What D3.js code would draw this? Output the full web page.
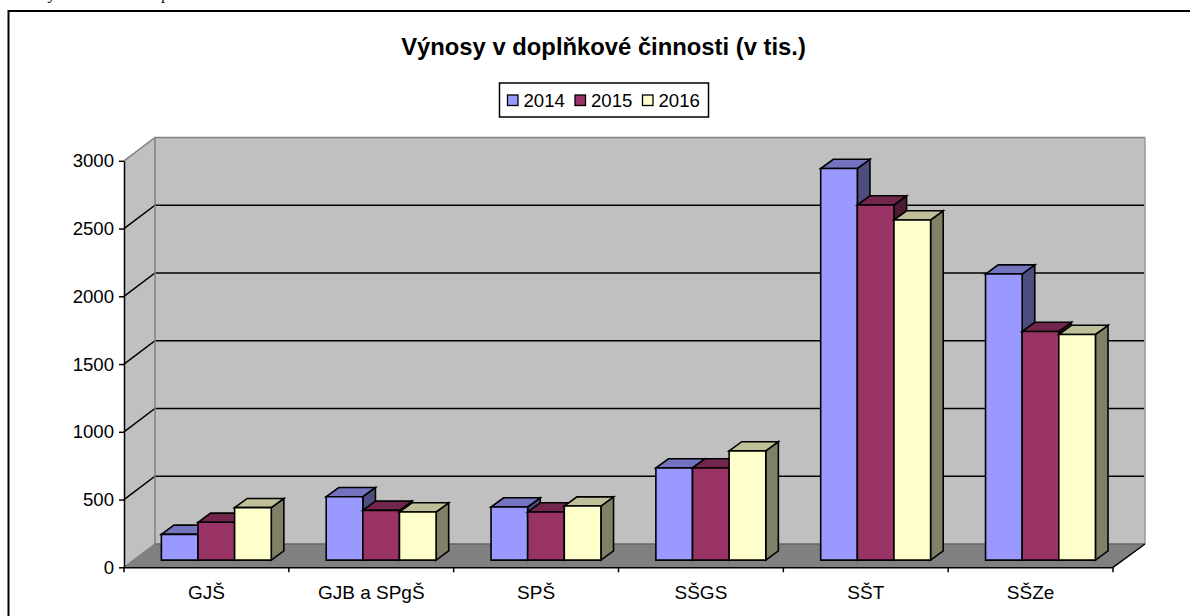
<!DOCTYPE html>
<html><head><meta charset="utf-8">
<script src="https://cdn.jsdelivr.net/npm/d3@7"></script>
<style>
html,body{margin:0;padding:0;background:#fff;overflow:hidden}
svg{display:block}
text{font-family:"Liberation Sans",Arial,sans-serif;fill:#000}
</style></head><body>
<svg id="c" width="1190" height="616"></svg>
<script>
const categories = ["GJŠ","GJB a SPgŠ","SPŠ","SŠGS","SŠT","SŠZe"];
const years = ["2014","2015","2016"];
const values2014 = [190,468,392,680,2890,2111];
const values2015 = [279,367,355,680,2621,1687];
const values2016 = [387,355,399,806,2510,1665];
const yTicks = [0,500,1000,1500,2000,2500,3000];
const titleText = "Výnosy v doplňkové činnosti (v tis.)";
const frontColors = ["#9999FF","#993366","#FFFFCC"];
const topColors = ["#7373BF","#73264D","#BFBF99"];
const sideColors = ["#4D4D80","#4D1A33","#808066"];
const series = [values2014,values2015,values2016];

const svg = d3.select("#c");
const L=124,R=1113,Y0=567.3,Y3=160.8,DX=31,DY=-23.3;
const x0 = d3.scaleBand().domain(categories).range([L,R]).paddingInner(0).paddingOuter(0);
const step = x0.step();
const barW = step/4.5;
const x1 = d3.scaleBand().domain(years).range([barW*0.75, barW*3.75]);
const y = d3.scaleLinear().domain([0,3000]).range([Y0,Y3]);
const bdx=9.9, bdy=-7.2, ddx=12.6, ddy=-9.2;

// caption cut off by the top of the page
const cap = svg.append("g").style("font-style","italic").style("font-size","16px");
cap.append("text").attr("x",49).attr("y",-1).style("font-family","'Liberation Serif',serif").text("y");
cap.append("text").attr("x",162).attr("y",-1).style("font-family","'Liberation Serif',serif").text("p");

// frame
svg.append("path").attr("d","M8.5,616V11H1190").attr("fill","#fff").attr("stroke","#000").attr("stroke-width",2);

// walls and floor
const poly=(pts,fill)=>svg.append("polygon").attr("points",pts.map(p=>p.join(",")).join(" ")).attr("fill",fill);
poly([[L,Y3],[L+DX,Y3+DY],[L+DX,Y0+DY],[L,Y0]],"#C0C0C0");
poly([[L+DX,Y3+DY],[R+DX+1,Y3+DY],[R+DX+1,Y0+DY],[L+DX,Y0+DY]],"#C0C0C0");
poly([[L,Y0],[L+DX,Y0+DY],[R+DX+1,Y0+DY],[R,Y0]],"#808080");

// gridlines
yTicks.slice(1,-1).forEach(t=>{
  svg.append("path").attr("d",`M${L},${y(t)}L${L+DX},${y(t)+DY}H${R+DX}`).attr("fill","none").attr("stroke","#000").attr("stroke-width",1.5);
});
// wall edges
svg.append("path").attr("d",`M${L},${Y3}L${L+DX},${Y3+DY}H${R+DX+1}`).attr("fill","none").attr("stroke","#808080").attr("stroke-width",1.5);
svg.append("path").attr("d",`M${L+DX},${Y3+DY}V${Y0+DY}L${L},${Y0}`).attr("fill","none").attr("stroke","#808080").attr("stroke-width",1.5);
svg.append("path").attr("d",`M${R+DX+1},${Y3+DY}V${Y0+DY}`).attr("fill","none").attr("stroke","#9a9a9a").attr("stroke-width",1.5);
svg.append("path").attr("d",`M${L+DX},${Y0+DY}H${R+DX+1}`).attr("fill","none").attr("stroke","#666").attr("stroke-width",1.5);
svg.append("path").attr("d",`M${R},${Y0}L${R+DX+1},${Y0+DY}`).attr("fill","none").attr("stroke","#000").attr("stroke-width",1.5);

// bars
categories.forEach((c,i)=>{
  const g = svg.append("g").attr("class","group");
  years.forEach((yr,s)=>{
    const v=series[s][i];
    const xa=x0(c)+x1(yr)+bdx, xb=xa+x1.bandwidth();
    const yt=y(v)+bdy, yb=Y0+bdy;
    const face=(pts,f)=>g.append("polygon").attr("points",pts.map(p=>p.join(",")).join(" ")).attr("fill",f).attr("stroke","#000").attr("stroke-width",1.6);
    face([[xb,yb],[xb+ddx,yb+ddy],[xb+ddx,yt+ddy],[xb,yt]],sideColors[s]);
    face([[xa,yt],[xa+ddx,yt+ddy],[xb+ddx,yt+ddy],[xb,yt]],topColors[s]);
    face([[xa,yt],[xb,yt],[xb,yb],[xa,yb]],frontColors[s]);
  });
});

// axes
const ga=svg.append("g").attr("transform",`translate(${L},0)`)
  .call(d3.axisLeft(y).tickValues(yTicks).tickFormat(d3.format("d")).tickSize(5).tickPadding(5).tickSizeOuter(0));
ga.selectAll("line,path").attr("stroke","#000").attr("stroke-width",1.5);
ga.selectAll("text").style("font-size","18.6px").attr("font-family",null);
const gb=svg.append("g").attr("transform",`translate(0,${Y0})`)
  .call(d3.axisBottom(x0).tickSize(0).tickPadding(18));
gb.select("path").attr("stroke","#000").attr("stroke-width",1.5);
gb.selectAll("text").style("font-size","19px").attr("font-family",null);
d3.range(categories.length+1).forEach(i=>{
  gb.append("line").attr("x1",L+i*step).attr("x2",L+i*step).attr("y1",0).attr("y2",5).attr("stroke","#000").attr("stroke-width",1.5);
});

// title
svg.append("text").attr("x",603.5).attr("y",54.5).attr("text-anchor","middle").style("font-size","23.8px").style("font-weight","bold").text(titleText);

// legend
svg.append("rect").attr("x",499.5).attr("y",83).attr("width",209).attr("height",34).attr("fill","#fff").attr("stroke","#000").attr("stroke-width",1.5);
const lx=d3.scalePoint().domain(years).range([507.5,642.5]);
years.forEach((yr,s)=>{
  svg.append("rect").attr("x",lx(yr)).attr("y",95).attr("width",10.5).attr("height",10.5).attr("fill",frontColors[s]).attr("stroke","#000").attr("stroke-width",1.3);
  svg.append("text").attr("x",lx(yr)+16).attr("y",107).style("font-size","18.6px").text(yr);
});
</script></body></html>
